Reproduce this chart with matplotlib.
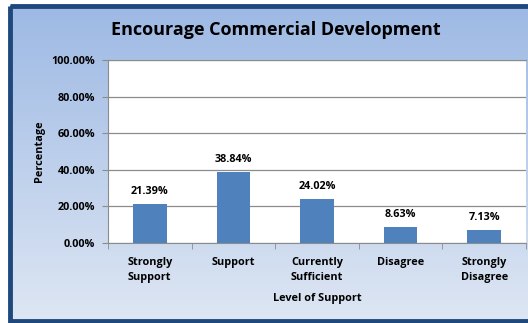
import numpy as np
import matplotlib
matplotlib.use("Agg")
import matplotlib.pyplot as plt
from matplotlib.patches import Rectangle
from matplotlib.ticker import FixedLocator, PercentFormatter

categories = ["Strongly\nSupport", "Support", "Currently\nSufficient", "Disagree", "Strongly\nDisagree"]
values = [21.39, 38.84, 24.02, 8.63, 7.13]
y_ticks = [0, 20, 40, 60, 80, 100]

plt.rcParams['font.family'] = ['Open Sans', 'DejaVu Sans']
plt.rcParams['font.weight'] = 'bold'

W, H = 528, 323
fig = plt.figure(figsize=(W / 100, H / 100), dpi=100)
fig.patch.set_facecolor("white")

# blue gradient panel with a dark frame
bg = fig.add_axes([0, 0, 1, 1], zorder=-10)
bg.set_xlim(0, W)
bg.set_ylim(H, 0)
bg.axis("off")
top = np.array([157, 185, 228]) / 255
bottom = np.array([222, 230, 243]) / 255
t = np.linspace(0, 1, 256)[:, None]
grad = (top[None, :] * (1 - t) + bottom[None, :] * t)[:, None, :]
bg.imshow(grad, extent=[10, W + 5, 321, 5.5], aspect="auto", zorder=0)
bg.add_patch(Rectangle((10, 5.5), W, 315.5, fill=False, edgecolor="#1F497D", linewidth=3.5, zorder=2))

ax = fig.add_axes([108 / W, 1 - 243 / H, 418 / W, 183 / H])
ax.set_facecolor("white")
x = np.arange(len(categories))
bars = ax.bar(x, values, width=0.4, color="#4F81BD", zorder=3)
ax.set_xlim(-0.5, len(categories) - 0.5)
ax.set_ylim(0, 100)
ax.yaxis.set_major_locator(FixedLocator(y_ticks))
ax.yaxis.set_major_formatter(PercentFormatter(decimals=2))
ax.grid(axis="y", color="#8C8C8C", linewidth=0.9, zorder=0)

for b, v in zip(bars, values):
    ax.annotate(f"{v:.2f}%", (b.get_x() + b.get_width() / 2, v), xytext=(0, 5),
                textcoords="offset points", ha="center", va="bottom",
                fontsize=7.8, fontweight="bold")

ax.set_xticks(x)
ax.set_xticklabels(categories, fontsize=7.8, fontweight="bold", linespacing=1.55)
ax.set_xticks(np.arange(len(categories) + 1) - 0.5, minor=True)
ax.tick_params(axis="x", which="major", length=0, pad=10)
ax.tick_params(axis="x", which="minor", length=4, color="#8C8C8C")
ax.tick_params(axis="y", labelsize=7.8, length=4, color="#8C8C8C", pad=5)
for s in ax.spines.values():
    s.set_color("#8C8C8C")
ax.spines["right"].set_visible(False)

ax.set_ylabel("Percentage", fontsize=7.8, fontweight="bold", labelpad=5)
ax.set_xlabel("Level of Support", fontsize=7.8, fontweight="bold", labelpad=7)
fig.text(276 / W, 1 - 30 / H, "Encourage Commercial Development", ha="center", va="center",
         fontsize=13, fontweight="bold")

fig.savefig("out.png", dpi=100)
